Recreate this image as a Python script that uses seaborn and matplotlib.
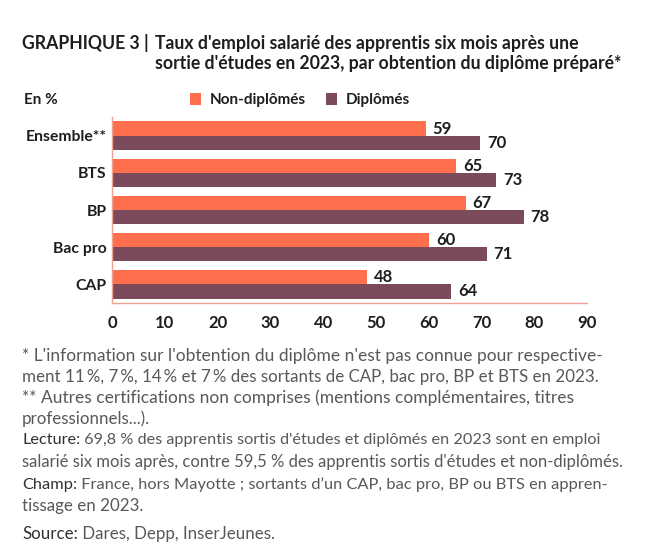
import matplotlib
matplotlib.use("Agg")
import matplotlib.pyplot as plt
import seaborn as sns
import pandas as pd
from matplotlib.patches import Patch

# ---- data ----
categories = ["Ensemble**", "BTS", "BP", "Bac pro", "CAP"]
non_diplomes = [59.4, 65.2, 67.0, 60.1, 48.4]
diplomes = [69.8, 72.8, 78.0, 71.0, 64.3]
series_names = ["Non-diplômés", "Diplômés"]
x_ticks = [0, 10, 20, 30, 40, 50, 60, 70, 80, 90]

title_prefix = "GRAPHIQUE 3 |"
title_line1 = "Taux d'emploi salarié des apprentis six mois après une"
title_line2 = "sortie d'études en 2023, par obtention du diplôme préparé*"
unit_label = "En %"
note_prefixes = ["", "", "", "", "Lecture:", "", "Champ:", "", "Source:"]
notes = [
    "* L'information sur l'obtention du diplôme n'est pas connue pour respective-",
    "ment 11\u2009%, 7\u2009%, 14\u2009% et 7\u2009% des sortants de CAP, bac pro, BP et BTS en 2023.",
    "** Autres certifications non comprises (mentions complémentaires, titres",
    "professionnels...).",
    " 69,8 % des apprentis sortis d'études et diplômés en 2023 sont en emploi",
    "salarié six mois après, contre 59,5 % des apprentis sortis d'études et non-diplômés.",
    " France, hors Mayotte ; sortants d’un CAP, bac pro, BP ou BTS en appren-",
    "tissage en 2023.",
    " Dares, Depp, InserJeunes.",
]

# ---- style ----
ORANGE = "#FF6F4E"
PURPLE = "#7C4B5B"
AXIS_C = "#EFA291"
TEXT_C = "#1E1E1E"
NOTE_C = "#585858"
NOTE_DARK = "#303030"
FONT = "Lato"
FAM = [FONT, "DejaVu Sans"]

sns.set_theme(style="white")
plt.rcParams["font.family"] = FAM

W, H = 647, 560
fig = plt.figure(figsize=(W / 100, H / 100), dpi=100)
fig.patch.set_facecolor("white")
renderer = fig.canvas.get_renderer()


def fx(px):
    return px / W


def fy(py):
    return 1 - py / H


ax = fig.add_axes([fx(112), fy(303), fx(587) - fx(112), fy(117) - fy(303)])

df = pd.DataFrame({
    "cat": categories * 2,
    "value": non_diplomes + diplomes,
    "status": [series_names[0]] * len(categories) + [series_names[1]] * len(categories),
})

sns.barplot(data=df, y="cat", x="value", hue="status", orient="h",
            palette=[ORANGE, PURPLE], width=0.76, dodge=True, gap=0,
            order=categories, hue_order=series_names, ax=ax,
            saturation=1, legend=False, linewidth=0)

for cont in ax.containers:
    ax.bar_label(cont, labels=[f"{v:.0f}" for v in cont.datavalues],
                 padding=5, fontsize=12, fontweight="bold", color=TEXT_C,
                 family=FAM)

ax.set_xlim(0, 90)
ax.set_ylim(len(categories) - 0.5, -0.5)
ax.set_xticks(x_ticks)
ax.set_xticklabels([str(t) for t in x_ticks], fontsize=12, fontweight="bold", color=TEXT_C)
ax.set_yticks(range(len(categories)))
ax.set_yticklabels(categories, fontsize=11.3, fontweight="bold", color=TEXT_C)
ax.set_yticks([i - 0.5 for i in range(len(categories) + 1)], minor=True)
ax.tick_params(axis="y", which="major", length=0, pad=4)
ax.tick_params(axis="y", which="minor", length=6, width=1, color=AXIS_C, direction="out")
ax.tick_params(axis="x", which="major", length=5, width=1, color=AXIS_C, direction="out", pad=4)
ax.set_xlabel("")
ax.set_ylabel("")
for s in ["top", "right"]:
    ax.spines[s].set_visible(False)
for s in ["left", "bottom"]:
    ax.spines[s].set_color(AXIS_C)
    ax.spines[s].set_linewidth(1)
ax.grid(False)

# ---- title ----
probe = fig.text(fx(22), fy(43), title_prefix + " " + title_line1, fontsize=13,
                 fontweight="bold", va="center", ha="left")
tfs = 13 * (576 - 22) / probe.get_window_extent(renderer=renderer).width
probe.remove()
fig.text(fx(22), fy(43), title_prefix, fontsize=tfs, fontweight="bold", color=TEXT_C, va="center", ha="left")
fig.text(fx(155), fy(43), title_line1, fontsize=tfs, fontweight="bold", color=TEXT_C, va="center", ha="left")
fig.text(fx(155), fy(64), title_line2, fontsize=tfs, fontweight="bold", color=TEXT_C, va="center", ha="left")

fig.text(fx(24), fy(100), unit_label, fontsize=11, fontweight="bold", color=TEXT_C, va="center", ha="left")

handles = [Patch(facecolor=ORANGE, edgecolor="none"), Patch(facecolor=PURPLE, edgecolor="none")]
fig.legend(handles, series_names, loc="center left", bbox_to_anchor=(fx(176), fy(100)),
           ncol=2, frameon=False, handlelength=0.75, handleheight=0.85, handletextpad=0.55,
           columnspacing=1.3, prop={"family": FAM, "weight": "bold", "size": 11},
           labelcolor=TEXT_C)

# ---- notes ----
note_y = [356, 377, 398, 419, 440, 462, 485, 506, 534]
note_targets = [603, 596, 576, None, 604, 626, 604, None, None]
base_fs = 12.2
for pre, txt, yy, tgt in zip(note_prefixes, notes, note_y, note_targets):
    full = pre + txt
    probe = fig.text(fx(22), fy(yy), full, fontsize=base_fs, va="center", ha="left")
    fs = base_fs
    if tgt is not None:
        bb = probe.get_window_extent(renderer=renderer)
        fs = base_fs * (tgt - 22) / bb.width
    probe.set_fontsize(fs)
    if not pre:
        probe.set_color(NOTE_C)
        continue
    full_w = probe.get_window_extent(renderer=renderer).width
    probe.remove()
    rest = fig.text(fx(22), fy(yy), txt, fontsize=fs, color=NOTE_C, va="center", ha="left")
    rest_w = rest.get_window_extent(renderer=renderer).width
    rest.set_x(fx(22 + full_w - rest_w))
    fig.text(fx(22), fy(yy), pre, fontsize=fs, color=NOTE_DARK, va="center", ha="left")

fig.savefig("out.png", dpi=100, facecolor="white")
